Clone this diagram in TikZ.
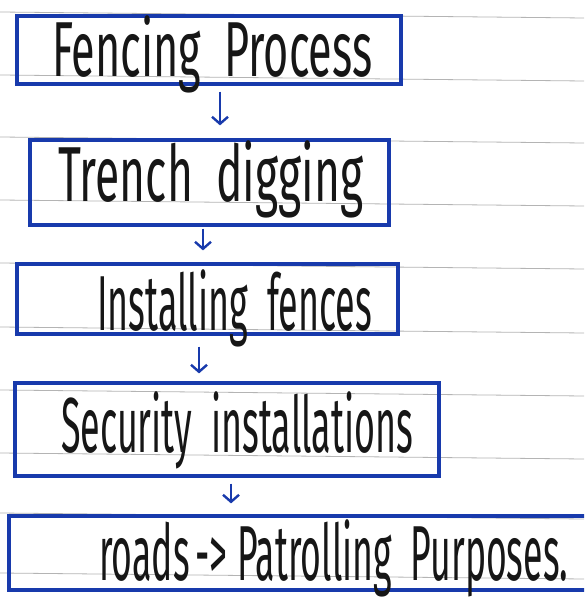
\documentclass[tikz,border=0pt]{standalone}
\usepackage{fontspec}
\setmainfont{Fira Sans}
\usepackage{graphicx}
\usepackage{xcolor}
\usepackage{tikz}
\usetikzlibrary{arrows.meta,positioning}
\definecolor{penblue}{RGB}{24, 58, 172}
\definecolor{inkblack}{RGB}{22, 22, 22}
\definecolor{ruleline}{RGB}{180, 180, 180}
% handwriting squeezed to a given width
\newcommand{\hw}[2]{\resizebox{#1}{\height}{#2}}

\begin{document}
\begin{tikzpicture}[x=1pt, y=-1pt,
    stepbox/.style={draw=penblue, line width=3.2pt, rectangle, inner sep=0pt},
    steptext/.style={anchor=base west, inner sep=0pt, text=inkblack, font=\fontsize{78}{80}\selectfont},
    flow/.style={draw=penblue, line width=2.4pt, -{Straight Barb[length=7pt,width=16pt]}}]
    \clip (0,0) rectangle (584,601);
    \fill[white] (0,0) rectangle (584,601);

    % ruled paper
    \foreach \y in {12,75,137,200,263,327,390,453,513,573}
        \draw[ruleline, line width=0.8pt] (0,\y) -- (584,\y+6);

    % boxes
    \node[stepbox, minimum width=384pt, minimum height=68pt] (b1) at (209,50) {};
    \node[stepbox, minimum width=359pt, minimum height=85pt] (b2) at (209.5,182.5) {};
    \node[stepbox, minimum width=381pt, minimum height=70pt] (b3) at (207.5,299) {};
    \node[stepbox, minimum width=424pt, minimum height=93pt] (b4) at (227,429.5) {};
    \node[stepbox, minimum width=591pt, minimum height=74pt] (b5) at (304.5,553) {};

    % texts
    \node[steptext] (t1) at (52,77) {\hw{320pt}{Fencing\ \ Process}};
    \node[steptext] (t2) at (58,202) {\hw{305pt}{Trench\ \ digging}};
    \node[steptext] (t3) at (97,330) {\hw{275pt}{Installing\ \ fences}};
    \node[steptext] (t4) at (61,452) {\hw{352pt}{Security\ \ installations}};
    \node[steptext] (t5) at (99,580) {\hw{469pt}{roads\,->\ Patrolling\ \ Purposes.}};

    % arrows
    \draw[flow] ([xshift=11pt,yshift=-6pt]b1.south) -- ([xshift=10.5pt,yshift=13pt]b2.north);
    \draw[flow] ([xshift=-6.5pt,yshift=-2pt]b2.south) -- ([xshift=-4.5pt,yshift=12pt]b3.north);
    \draw[flow] ([xshift=-8.5pt,yshift=-11pt]b3.south) -- ([xshift=-28pt,yshift=8pt]b4.north);
    \draw[flow] ([xshift=4pt,yshift=-6pt]b4.south) -- ([xshift=-73.5pt,yshift=11pt]b5.north);
\end{tikzpicture}
\end{document}
